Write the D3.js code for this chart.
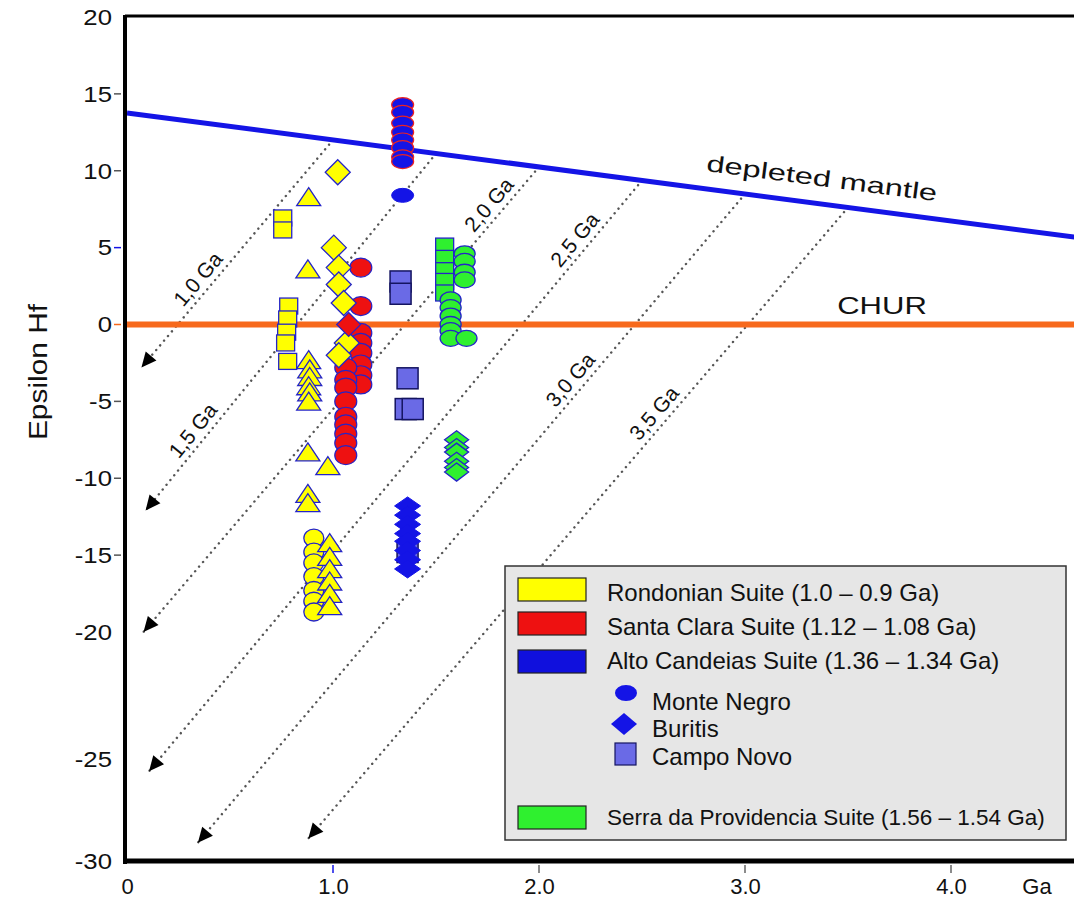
<!DOCTYPE html>
<html><head><meta charset="utf-8">
<script src="https://cdn.jsdelivr.net/npm/d3@7"></script>
<style>body{margin:0;background:#fff} svg{display:block}</style>
</head><body><svg id="c" width="1074" height="900"></svg>
<script>
// ---------------- data ----------------
const yTickValues = [20,15,10,5,0,-5,-10,-15,-20,-25,-30];
const yTickMarks  = [15,10,5,0,-5,-10,-15];
const xTickValues = [0,1,2,3,4];
const xTickLabels = ["0","1.0","2.0","3.0","4.0"];

const dmAge = [0, 4.6];
const dmEps = [13.76, 5.68];
const churEps = 0;

const modelAges   = [1.0, 1.5, 2.0, 2.5, 3.0, 3.5];
const modelLabels = ["1,0 Ga","1,5 Ga","2,0 Ga","2,5 Ga","3,0 Ga","3,5 Ga"];
const evoEndAge   = [0.07, 0.09, 0.08, 0.107, 0.344, 0.88];
const evoEndEps   = [-2.8, -12.1, -20.0, -25.6, -29.1, -28.9];

// Rondonian Suite (yellow)
const rondSqAge  = [0.756,0.756,0.785,0.78,0.775,0.77,0.78];
const rondSqEps  = [6.93,6.15,1.2,0.36,-0.5,-1.2,-2.4];
const rondTriAge = [0.882,0.878,0.882,0.887,0.887,0.882,0.887,0.882,0.878,0.975,0.878,0.878,0.984,0.984,0.984,0.984,0.984,0.984];
const rondTriEps = [8.2,3.5,-2.4,-3.0,-3.5,-4.1,-4.5,-5.1,-8.4,-9.3,-11.1,-11.7,-14.3,-15.2,-16.0,-16.8,-17.6,-18.4];
const rondCirAge = [0.907,0.907,0.907,0.907,0.907,0.907,0.907];
const rondCirEps = [-13.9,-14.8,-15.5,-16.4,-17.3,-18.0,-18.7];
const rondDiaAge = [1.023,1.004,1.028,1.028,1.052,1.067,1.028];
const rondDiaEps = [9.9,5.0,3.7,2.6,1.4,-1.2,-2.0];

// Santa Clara Suite (red)
const scCirAge = [1.135,1.135,1.135,1.135,1.135,1.135,1.135,1.135,1.062,1.062,1.062,1.062,1.062,1.062,1.062,1.062,1.062];
const scCirEps = [3.7,1.2,-0.55,-1.2,-1.85,-2.6,-3.3,-3.9,-2.8,-3.6,-4.1,-5.0,-6.0,-6.5,-7.1,-7.7,-8.5];
const scDiaAge = [1.076];
const scDiaEps = [0.0];

// Alto Candeias Suite (blue)
const mnAge  = [1.338,1.338,1.338,1.338,1.338,1.338,1.338,1.338];
const mnEps  = [14.3,13.8,13.1,12.5,12.0,11.5,10.9,10.6];
const mn2Age = [1.338];
const mn2Eps = [8.4];
const burAge = [1.362,1.362,1.362,1.362,1.362,1.362,1.362,1.362];
const burEps = [-11.8,-12.4,-13.0,-13.6,-14.1,-14.7,-15.3,-15.9];
const cnAge  = [1.328,1.328,1.362,1.353,1.387,1.362];
const cnEps  = [2.8,2.0,-3.5,-5.5,-5.5,-14.8];

// Serra da Providencia Suite (green)
const spSqAge  = [1.542,1.542,1.542,1.542,1.542];
const spSqEps  = [5.1,4.3,3.5,2.8,2.05];
const spCirAge = [1.639,1.639,1.639,1.639,1.571,1.571,1.571,1.571,1.571,1.571,1.648];
const spCirEps = [4.6,4.1,3.4,2.9,1.6,1.1,0.55,0.0,-0.4,-0.9,-0.9];
const spDiaAge = [1.6,1.6,1.6,1.6,1.6,1.6];
const spDiaEps = [-7.5,-8.0,-8.3,-8.9,-9.3,-9.6];

const legendSuites = ["Rondonian Suite (1.0 \u2013 0.9 Ga)","Santa Clara Suite (1.12 \u2013 1.08 Ga)","Alto Candeias Suite (1.36 \u2013 1.34 Ga)","Serra da Providencia Suite (1.56 \u2013 1.54 Ga)"];
const legendSub = ["Monte Negro","Buritis","Campo Novo"];

// ---------------- chart ----------------
const FONT = "'Liberation Sans', Arial, Helvetica, sans-serif";
const YEL = "#ffff00", RED = "#ee1111", BLU = "#1414e6", GRN = "#2ff02f", CN = "#6a6ae6", EDGE = "#2424c8";
const svg = d3.select("#c");
const x = d3.scaleLinear().domain([0, 4]).range([127, 951]);
const y = d3.scaleLinear().domain([20, -20, -25, -30]).range([17, 632, 759, 861]);

// evolution (dotted) lines
const dmAt = d3.scaleLinear().domain(dmAge).range(dmEps);
const labelFrac = [0.35, 0.2, 0.9, 0.885, 0.7, 0.66];
const gEvo = svg.append("g");
modelAges.forEach((a, i) => {
  const sx = x(a), sy = y(dmAt(a)), ex = x(evoEndAge[i]), ey = y(evoEndEps[i]);
  gEvo.append("line").attr("x1", sx).attr("y1", sy).attr("x2", ex).attr("y2", ey)
    .attr("stroke", "#555").attr("stroke-width", 2.4).attr("stroke-linecap", "round")
    .attr("stroke-dasharray", "0.1 6");
  const ang = Math.atan2(ey - sy, ex - sx) * 180 / Math.PI;
  gEvo.append("path").attr("d", "M0,0 L-15,-7 L-15,7 Z").attr("fill", "#000")
    .attr("transform", `translate(${ex},${ey}) rotate(${ang})`);
  const f = labelFrac[i];
  const len = Math.hypot(sx - ex, sy - ey);
  const ux = (sx - ex) / len, uy = (sy - ey) / len;
  const nx = uy, ny = -ux; // perpendicular, up-left
  const lx = ex + (sx - ex) * f + nx * 14, ly = ey + (sy - ey) * f + ny * 14;
  const tang = Math.atan2(sy - ey, sx - ex) * 180 / Math.PI;
  gEvo.append("text").attr("transform", `translate(${lx},${ly}) rotate(${tang})`)
    .attr("text-anchor", "middle").attr("dominant-baseline", "central")
    .attr("font-family", FONT).attr("font-size", 21).attr("fill", "#111").text(modelLabels[i]);
});

// reference lines
svg.append("line").attr("x1", x(0) - 2).attr("x2", 1074).attr("y1", y(churEps)).attr("y2", y(churEps))
  .attr("stroke", "#f7691c").attr("stroke-width", 6);
const dmLine = d3.line().x(d => x(d[0])).y(d => y(d[1]));
svg.append("path").attr("d", dmLine(dmAge.map((a, i) => [a, dmEps[i]]))).attr("stroke", BLU)
  .attr("stroke-width", 5).attr("fill", "none");

// labels on lines
svg.append("text").attr("transform", `translate(882,306) scale(1.35,1)`).attr("text-anchor", "middle")
  .attr("dominant-baseline", "central").attr("font-family", FONT).attr("font-size", 23).attr("fill", "#111").text("CHUR");
const dmAngle = Math.atan2(y(dmEps[1]) - y(dmEps[0]), x(dmAge[1]) - x(dmAge[0])) * 180 / Math.PI;
svg.append("text").attr("transform", `translate(822,178) rotate(${dmAngle}) scale(1.42,1)`).attr("text-anchor", "middle")
  .attr("dominant-baseline", "central").attr("font-family", FONT).attr("font-size", 23).attr("fill", "#111").text("depleted mantle");

// points
const gPts = svg.append("g");
function pts(ages, eps, shape, w, h, fill, stroke, sw) {
  ages.forEach((a, i) => {
    const cx = x(a), cy = y(eps[i]);
    let el;
    if (shape === "ellipse") {
      el = gPts.append("ellipse").attr("cx", cx).attr("cy", cy).attr("rx", w / 2).attr("ry", h / 2);
    } else if (shape === "rect") {
      el = gPts.append("rect").attr("x", cx - w / 2).attr("y", cy - h / 2).attr("width", w).attr("height", h);
    } else if (shape === "diamond") {
      el = gPts.append("path").attr("d", `M${cx},${cy - h / 2} L${cx + w / 2},${cy} L${cx},${cy + h / 2} L${cx - w / 2},${cy} Z`);
    } else {
      el = gPts.append("path").attr("d", `M${cx},${cy - h * 0.6} L${cx + w / 2},${cy + h * 0.4} L${cx - w / 2},${cy + h * 0.4} Z`);
    }
    el.attr("fill", fill).attr("stroke", stroke).attr("stroke-width", sw);
  });
}
pts(rondCirAge, rondCirEps, "ellipse", 20, 18, YEL, EDGE, 1.3);
pts(rondTriAge, rondTriEps, "tri", 24, 18, YEL, EDGE, 1.3);
pts(rondSqAge, rondSqEps, "rect", 18, 16, YEL, EDGE, 1.3);
pts(scCirAge, scCirEps, "ellipse", 22, 19, RED, EDGE, 1.2);
pts(rondDiaAge, rondDiaEps, "diamond", 25, 25, YEL, EDGE, 1.3);
pts(scDiaAge, scDiaEps, "diamond", 24, 24, RED, EDGE, 1.2);
pts(mnAge, mnEps, "ellipse", 22, 14, BLU, "#ee2222", 1.2);
pts(mn2Age, mn2Eps, "ellipse", 22, 14, BLU, BLU, 1);
pts(cnAge, cnEps, "rect", 21, 21, CN, "#141460", 1.5);
pts(burAge, burEps, "diamond", 26, 18, BLU, BLU, 1);
pts(spSqAge, spSqEps, "rect", 18, 16, GRN, EDGE, 1.3);
pts(spCirAge, spCirEps, "ellipse", 21, 16, GRN, EDGE, 1.3);
pts(spDiaAge, spDiaEps, "diamond", 24, 18, GRN, EDGE, 1.3);

// frame / axes
svg.append("line").attr("x1", 125).attr("x2", 1074).attr("y1", 16).attr("y2", 16).attr("stroke", "#000").attr("stroke-width", 3);
svg.append("line").attr("x1", 125).attr("x2", 125).attr("y1", 15).attr("y2", 864).attr("stroke", "#000").attr("stroke-width", 4);
svg.append("line").attr("x1", 123).attr("x2", 1074).attr("y1", 861).attr("y2", 861).attr("stroke", "#000").attr("stroke-width", 5);

const yAx = svg.append("g").attr("transform", "translate(125,0)")
  .call(d3.axisLeft(y).tickValues(yTickValues).tickSize(0).tickPadding(13).tickFormat(d => String(d)));
yAx.select(".domain").remove();
yAx.attr("font-family", FONT).attr("font-size", 23);
yAx.selectAll("text").attr("fill", "#111").attr("transform", "scale(1.12,1)").attr("x", -13 / 1.12);
const yTickColor = {5: BLU, 0: "#f7691c"};
svg.append("g").selectAll("line").data(yTickMarks).join("line")
  .attr("x1", 114).attr("x2", 121).attr("y1", d => y(d)).attr("y2", d => y(d))
  .attr("stroke", d => yTickColor[d] || "#555").attr("stroke-width", 1.5);

const xAx = svg.append("g").attr("transform", "translate(0,861)")
  .call(d3.axisBottom(x).tickValues(xTickValues).tickSize(0).tickPadding(17).tickFormat((d, i) => xTickLabels[i]));
xAx.select(".domain").remove();
xAx.attr("font-family", FONT).attr("font-size", 22);
xAx.selectAll("text").attr("fill", "#111");
svg.append("g").selectAll("line").data(xTickValues.slice(1)).join("line")
  .attr("x1", d => x(d)).attr("x2", d => x(d)).attr("y1", 865).attr("y2", 873)
  .attr("stroke", d => d === 1 ? BLU : "#666").attr("stroke-width", 1.5);
svg.append("text").attr("x", 1037).attr("y", 886).attr("text-anchor", "middle").attr("dominant-baseline", "central")
  .attr("font-family", FONT).attr("font-size", 22).attr("fill", "#111").text("Ga");

svg.append("text").attr("transform", "translate(38,372) rotate(-90) scale(1.15,1)").attr("text-anchor", "middle")
  .attr("dominant-baseline", "central").attr("font-family", FONT).attr("font-size", 26).attr("fill", "#111").text("Epsilon Hf");

// legend
const lg = svg.append("g");
lg.append("rect").attr("x", 505).attr("y", 566).attr("width", 561).attr("height", 274)
  .attr("fill", "#e6e6e6").attr("stroke", "#333").attr("stroke-width", 1.5);
const suiteFill = [YEL, RED, "#1010dd", GRN];
const suiteRectY = [578, 612, 650, 806];
const suiteTextY = [592, 626, 660, 817];
legendSuites.forEach((s, i) => {
  lg.append("rect").attr("x", 518).attr("y", suiteRectY[i]).attr("width", 68).attr("height", 23)
    .attr("fill", suiteFill[i]).attr("stroke", "#222").attr("stroke-width", 1.2);
  lg.append("text").attr("x", 607).attr("y", suiteTextY[i]).attr("dominant-baseline", "central")
    .attr("font-family", FONT).attr("font-size", i === 3 ? 22.5 : 24).attr("fill", "#111").text(s);
});
lg.append("ellipse").attr("cx", 626).attr("cy", 693).attr("rx", 11).attr("ry", 8).attr("fill", BLU);
lg.append("path").attr("d", "M624,713 L637,724 L624,735 L611,724 Z").attr("fill", BLU);
lg.append("rect").attr("x", 615).attr("y", 743).attr("width", 21).attr("height", 22).attr("fill", CN).attr("stroke", "#141460").attr("stroke-width", 1.2);
const subY = [701, 728, 756];
legendSub.forEach((s, i) => {
  lg.append("text").attr("x", 652).attr("y", subY[i]).attr("dominant-baseline", "central")
    .attr("font-family", FONT).attr("font-size", 24).attr("fill", "#111").text(s);
});
</script></body></html>
